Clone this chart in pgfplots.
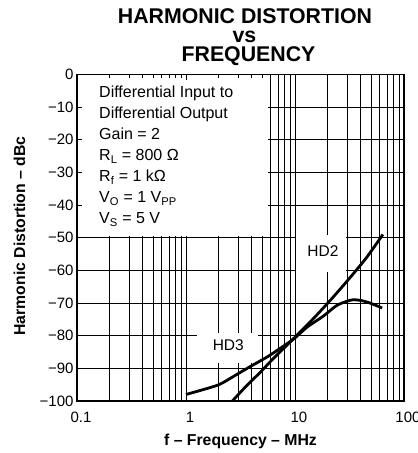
\documentclass[border=0pt]{standalone}
\usepackage{pgfplots}
\pgfplotsset{compat=1.18}
\usepackage{fontspec}
\setmainfont{Liberation Sans}
\pgfdeclarelayer{boxes}
\pgfplotsset{
 layers/mylayers/.define layer set={axis background,axis grid,boxes,axis ticks,axis lines,axis tick labels,pre main,main,axis descriptions,axis foreground}{
   grid style={/pgfplots/on layer=axis grid},
   tick style={/pgfplots/on layer=axis ticks},
   axis line style={/pgfplots/on layer=axis lines},
   label style={/pgfplots/on layer=axis descriptions},
   legend style={/pgfplots/on layer=axis descriptions},
   title style={/pgfplots/on layer=axis descriptions},
   colorbar style={/pgfplots/on layer=axis descriptions},
   ticklabel style={/pgfplots/on layer=axis tick labels},
   axis background@ style={/pgfplots/on layer=axis background},
   3d box foreground style={/pgfplots/on layer=axis foreground},
 },
}
\begin{document}
\begin{tikzpicture}[x=1pt,y=1pt]
\begin{axis}[
  set layers=mylayers,
  scale only axis,
  width=327pt, height=326.5pt,
  anchor=south west, at={(77pt,-401pt)},
  xmode=log,
  xmin=0.1, xmax=100, ymin=-100, ymax=0,
  xtick={0.1,1,10,100},
  xticklabels={0.1,1,10,100},
  minor xtick={0.2,0.3,0.4,0.5,0.6,0.7,0.8,0.9,2,3,4,5,6,7,8,9,20,30,40,50,60,70,80,90},
  ytick={-100,-90,-80,-70,-60,-50,-40,-30,-20,-10,0},
  yticklabels={−100,−90,−80,−70,−60,−50,−40,−30,−20,−10,0},
  grid=both,
  major grid style={black, line width=0.8pt},
  minor grid style={black, line width=0.8pt},
  axis line style={line width=1.8pt},
  tick style={black, line width=0.8pt},
  major tick length=5pt, minor tick length=3pt,
  tick align=inside,
  tick label style={font=\fontsize{15}{18}\selectfont},
  xticklabel style={anchor=base, yshift=-21pt, xshift=4pt},
  clip=true,
]
\begin{pgfonlayer}{boxes}
\fill[white] (axis cs:0.1,-49.6) rectangle (axis cs:5.65,0);
\fill[white] (axis cs:10.2,-60.5) rectangle (axis cs:29.4,-49.2);
\fill[white] (axis cs:1.254,-88.4) rectangle (axis cs:4.61,-79.2);
\end{pgfonlayer}
% HD3
\addplot[black, line width=2.8pt, smooth] coordinates {
 (1,-98) (1.34,-96.8) (2,-95) (2.72,-92.5) (3.86,-89.5) (5.5,-86.6) (7,-84.3)
 (9.64,-81.1) (13,-77.3) (18.2,-74) (24,-70.8) (29.7,-69.5) (34,-69) (40,-69.2)
 (48.8,-70) (63,-71.5)
};
% HD2
\addplot[black, line width=2.8pt, smooth] coordinates {
 (2.58,-100.5) (3.6,-95.3) (4.77,-91.3) (6.5,-86.6) (9.64,-81) (14.7,-74.8)
 (20.9,-69.3) (30,-63.3) (45,-56.2) (64,-49)
};
\end{axis}
\node[font=\bfseries\fontsize{21.3}{19}\selectfont, anchor=base] at (245,-23.3) {HARMONIC DISTORTION};
\node[font=\bfseries\fontsize{21.3}{19}\selectfont, anchor=base] at (244.5,-42.7) {vs};
\node[font=\bfseries\fontsize{21.3}{19}\selectfont, anchor=base] at (248.5,-61.7) {FREQUENCY};
\node[rotate=90, anchor=base, font=\bfseries\fontsize{15.8}{18}\selectfont] at (25,-236) {Harmonic Distortion – dBc};
\node[anchor=base, font=\bfseries\fontsize{15.8}{18}\selectfont] at (240.5,-445) {f – Frequency – MHz};
\begin{scope}[every node/.style={anchor=base west, inner sep=0pt, font=\fontsize{16}{19}\selectfont}]
\node at (99,-97.5) {Differential Input to};
\node at (99,-118.5) {Differential Output};
\node at (99,-139.5) {Gain = 2};
\node at (99,-160.5) {R\textsubscript{L} = 800 Ω};
\node at (99,-181.5) {R\textsubscript{f} = 1 kΩ};
\node at (99,-202.5) {V\textsubscript{O} = 1 V\textsubscript{PP}};
\node at (99,-223.5) {V\textsubscript{S} = 5 V};
\end{scope}
\node[anchor=base, inner sep=0pt, font=\fontsize{15.5}{18}\selectfont] at (323,-256.3) {HD2};
\node[anchor=base, inner sep=0pt, font=\fontsize{15.5}{18}\selectfont] at (228.3,-350.7) {HD3};
\pgfresetboundingbox
\path (0,0) rectangle (418,-453);
\end{tikzpicture}
\end{document}
